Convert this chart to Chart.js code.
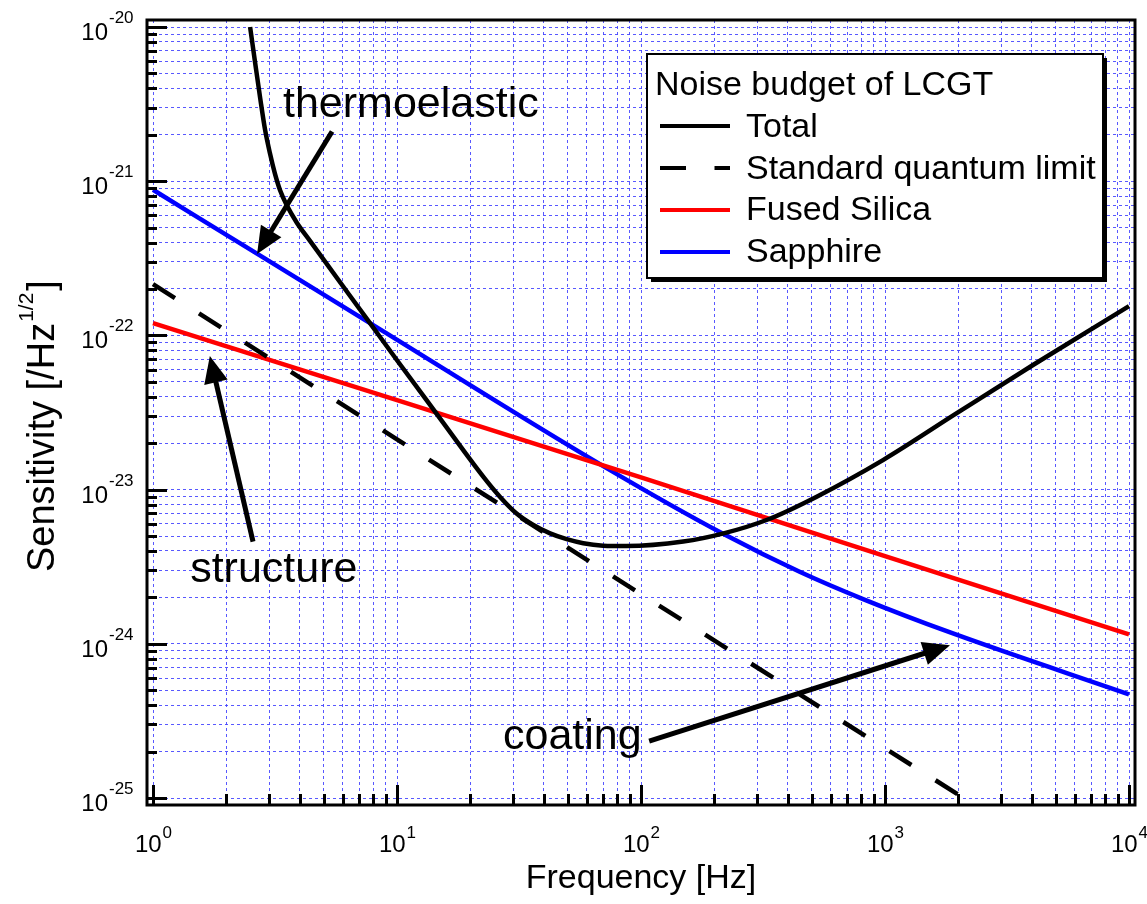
<!DOCTYPE html>
<html>
<head>
<meta charset="utf-8">
<script src="https://cdn.jsdelivr.net/npm/chart.js@4.4.0/dist/chart.umd.min.js"></script>
<style>
  html, body { margin: 0; padding: 0; background: #fff; }
  #wrap { width: 1147px; height: 904px; position: relative; }
</style>
</head>
<body>
<div id="wrap"><canvas id="noiseChart"></canvas></div>
<script>
// frequency [Hz] / sensitivity [/Hz^1/2]
const totalFreq = [2.5, 2.62, 2.75, 2.88, 3.02, 3.16, 3.32, 3.53, 3.88, 4.4, 7.75, 10, 15, 22.6, 26.4, 30.9, 36.2, 42.4, 49.6, 58, 70, 87, 149, 218, 327, 525, 985, 1968, 4057, 10000];
const totalVal = [1.0e-20, 5.9e-21, 3.45e-21, 2.15e-21, 1.5e-21, 1.12e-21, 8.7e-22, 7.0e-22, 5.4e-22, 4.1e-22, 1.2e-22, 6.9e-23, 2.9e-23, 1.21e-23, 9.0e-24, 7.0e-24, 5.9e-24, 5.2e-24, 4.77e-24, 4.49e-24, 4.33e-24, 4.3e-24, 4.6e-24, 5.2e-24, 6.35e-24, 9.0e-24, 1.56e-23, 3.13e-23, 6.45e-23, 1.55e-22];

const sqlFreq = [1, 10, 100, 1000, 2000];
const sqlVal = [2.15e-22, 2.12e-23, 2.1e-24, 2.1e-25, 1.05e-25];

const silicaFreq = [1, 10, 100, 1000, 10000];
const silicaVal = [1.2e-22, 3.8e-23, 1.2e-23, 3.7e-24, 1.15e-24];

const sapphireFreq = [1, 2.74, 7.75, 70, 218, 449, 813, 1862, 10000];
const sapphireVal = [8.8e-22, 3.3e-22, 1.2e-22, 1.42e-23, 5.15e-24, 2.92e-24, 1.95e-24, 1.18e-24, 4.7e-25];

// axis decades and their labels
const xMajor = [1, 10, 100, 1000, 10000];
const xExp = ['0', '1', '2', '3', '4'];
const yMajor = [1e-25, 1e-24, 1e-23, 1e-22, 1e-21, 1e-20];
const yExp = ['-25', '-24', '-23', '-22', '-21', '-20'];
const minorSteps = [2, 3, 4, 5, 6, 7, 8, 9];

// annotations: [freq, value] anchors
const notes = [
    { text: 'thermoelastic', at: [3.41, 2.6e-21], from: [5.42, 2.1e-21], to: [2.67, 3.37e-22] },
    { text: 'structure', at: [1.42, 2.5e-24], from: [2.57, 4.6e-24], to: [1.71, 7.35e-23] },
    { text: 'coating', at: [27.2, 2.08e-25], from: [108, 2.34e-25], to: [1846, 9.8e-25] }
];

const FONT = "'Liberation Sans', Arial, Helvetica, sans-serif";
const gridBlue = 'rgba(70, 70, 255, 0.9)';

function pairs(xs, ys) {
    return xs.map((x, i) => ({ x: x, y: ys[i] }));
}

function withMinors(majors) {
    const out = [];
    majors.forEach((m, i) => {
        out.push(m);
        if (i < majors.length - 1) minorSteps.forEach(k => out.push(m * k));
    });
    return out;
}

const xGrid = withMinors(xMajor);
const yGrid = withMinors(yMajor);

function arrow(ctx, x0, y0, x1, y1) {
    const dx = x1 - x0, dy = y1 - y0;
    const len = Math.sqrt(dx * dx + dy * dy);
    const ux = dx / len, uy = dy / len;
    const hl = 27, hw = 12;
    const bx = x1 - ux * hl, by = y1 - uy * hl;
    ctx.lineWidth = 5;
    ctx.beginPath();
    ctx.moveTo(x0, y0);
    ctx.lineTo(bx + ux * 2, by + uy * 2);
    ctx.stroke();
    ctx.beginPath();
    ctx.moveTo(x1, y1);
    ctx.lineTo(bx - uy * hw, by + ux * hw);
    ctx.lineTo(bx + uy * hw, by - ux * hw);
    ctx.closePath();
    ctx.fill();
}

const decorPlugin = {
    id: 'decor',
    afterDraw(chart) {
        const ctx = chart.ctx;
        const a = chart.chartArea;
        const xs = chart.scales.x, ys = chart.scales.y;
        ctx.save();
        ctx.fillStyle = '#000';
        ctx.strokeStyle = '#000';

        // frame
        ctx.lineWidth = 3;
        ctx.strokeRect(a.left, a.top, a.right - a.left, a.bottom - a.top);

        // inner tick marks
        ctx.lineWidth = 3;
        yGrid.forEach(v => {
            const py = Math.round(ys.getPixelForValue(v)) + 0.5;
            const len = yMajor.includes(v) ? 20 : 10;
            ctx.beginPath();
            ctx.moveTo(a.left, py);
            ctx.lineTo(a.left + len, py);
            ctx.stroke();
        });
        xGrid.forEach(v => {
            const px = Math.round(xs.getPixelForValue(v)) + 0.5;
            const len = xMajor.includes(v) ? 20 : 11;
            ctx.beginPath();
            ctx.moveTo(px, a.bottom);
            ctx.lineTo(px, a.bottom - len);
            ctx.stroke();
        });

        // tick labels 10^n
        ctx.textBaseline = 'alphabetic';
        yMajor.forEach((v, i) => {
            const py = ys.getPixelForValue(v);
            ctx.font = '24px ' + FONT;
            ctx.textAlign = 'right';
            ctx.fillText('10', a.left - 39, py + 13);
            ctx.font = '17px ' + FONT;
            ctx.textAlign = 'left';
            ctx.fillText(yExp[i], a.left - 38, py - 4);
        });
        xMajor.forEach((v, i) => {
            const px = xs.getPixelForValue(v);
            ctx.font = '24px ' + FONT;
            const w1 = ctx.measureText('10').width;
            ctx.font = '17px ' + FONT;
            const w2 = ctx.measureText(xExp[i]).width;
            const start = px - (w1 + w2) / 2;
            ctx.textAlign = 'left';
            ctx.font = '24px ' + FONT;
            ctx.fillText('10', start, a.bottom + 47);
            ctx.font = '17px ' + FONT;
            ctx.fillText(xExp[i], start + w1 + 1, a.bottom + 33);
        });

        // axis titles
        ctx.font = '34px ' + FONT;
        ctx.textAlign = 'center';
        ctx.fillText('Frequency [Hz]', (a.left + a.right) / 2, a.bottom + 83);

        ctx.save();
        ctx.translate(54, 572);
        ctx.rotate(-Math.PI / 2);
        ctx.textAlign = 'left';
        ctx.font = '38px ' + FONT;
        const t1 = 'Sensitivity [/Hz';
        const tw = ctx.measureText(t1).width;
        ctx.fillText(t1, 0, 0);
        ctx.font = '21px ' + FONT;
        const sw = ctx.measureText('1/2').width;
        ctx.fillText('1/2', tw + 1, -21);
        ctx.font = '38px ' + FONT;
        ctx.fillText(']', tw + sw + 3, 0);
        ctx.restore();

        // annotations
        ctx.font = '43px ' + FONT;
        ctx.textAlign = 'left';
        notes.forEach(n => {
            ctx.fillText(n.text, xs.getPixelForValue(n.at[0]), ys.getPixelForValue(n.at[1]));
            arrow(ctx,
                xs.getPixelForValue(n.from[0]), ys.getPixelForValue(n.from[1]),
                xs.getPixelForValue(n.to[0]), ys.getPixelForValue(n.to[1]));
        });

        // legend box
        const lg = { x: 647, y: 54, w: 456, h: 224 };
        ctx.fillStyle = '#000';
        ctx.fillRect(lg.x + 4, lg.y + 4, lg.w, lg.h);
        ctx.fillStyle = '#fff';
        ctx.fillRect(lg.x, lg.y, lg.w, lg.h);
        ctx.lineWidth = 2;
        ctx.strokeStyle = '#000';
        ctx.strokeRect(lg.x, lg.y, lg.w, lg.h);
        ctx.fillStyle = '#000';
        ctx.font = '34px ' + FONT;
        ctx.fillText('Noise budget of LCGT', lg.x + 8, lg.y + 41);
        chart.data.datasets.forEach((ds, i) => {
            const ly = lg.y + 72 + 42 * i;
            ctx.save();
            ctx.beginPath();
            ctx.rect(lg.x + 13, ly - 5, 70, 10);
            ctx.clip();
            ctx.strokeStyle = ds.borderColor;
            ctx.lineWidth = 4;
            ctx.setLineDash(ds.borderDash || []);
            ctx.beginPath();
            ctx.moveTo(lg.x + 13, ly);
            ctx.lineTo(lg.x + 83, ly);
            ctx.stroke();
            ctx.restore();
            ctx.fillText(ds.label, lg.x + 99, lg.y + 83 + 41.7 * i);
        });
        ctx.restore();
    }
};

const lineBase = { pointRadius: 0, borderWidth: 4.5, fill: false };

new Chart('noiseChart', {
    type: 'line',
    data: {
        datasets: [
            Object.assign({ label: 'Total', data: pairs(totalFreq, totalVal), borderColor: '#000000', cubicInterpolationMode: 'monotone' }, lineBase),
            Object.assign({ label: 'Standard quantum limit', data: pairs(sqlFreq, sqlVal), borderColor: '#000000', borderDash: [26, 28.5], tension: 0 }, lineBase),
            Object.assign({ label: 'Fused Silica', data: pairs(silicaFreq, silicaVal), borderColor: '#ff0000', tension: 0 }, lineBase),
            Object.assign({ label: 'Sapphire', data: pairs(sapphireFreq, sapphireVal), borderColor: '#0000ff', cubicInterpolationMode: 'monotone' }, lineBase)
        ]
    },
    options: {
        responsive: true,
        maintainAspectRatio: false,
        animation: false,
        layout: { padding: { left: 147, top: 20, right: 12, bottom: 99 } },
        plugins: {
            legend: { display: false },
            tooltip: { enabled: false }
        },
        scales: {
            x: {
                type: 'logarithmic',
                bounds: 'data',
                min: Math.pow(10, -6 / 244),
                max: Math.pow(10, 4 + 6 / 244),
                afterBuildTicks: s => { s.ticks = xGrid.map(v => ({ value: v })); },
                ticks: { display: false },
                grid: { color: gridBlue, lineWidth: 1, drawTicks: false },
                border: { display: false, dash: [3, 3] }
            },
            y: {
                type: 'logarithmic',
                bounds: 'data',
                min: Math.pow(10, -25 - 7 / 154.2),
                max: Math.pow(10, -20 + 7 / 154.2),
                afterBuildTicks: s => { s.ticks = yGrid.map(v => ({ value: v })); },
                ticks: { display: false },
                grid: { color: gridBlue, lineWidth: 1, drawTicks: false },
                border: { display: false, dash: [3, 3] }
            }
        }
    },
    plugins: [decorPlugin]
});
</script>
</body>
</html>
